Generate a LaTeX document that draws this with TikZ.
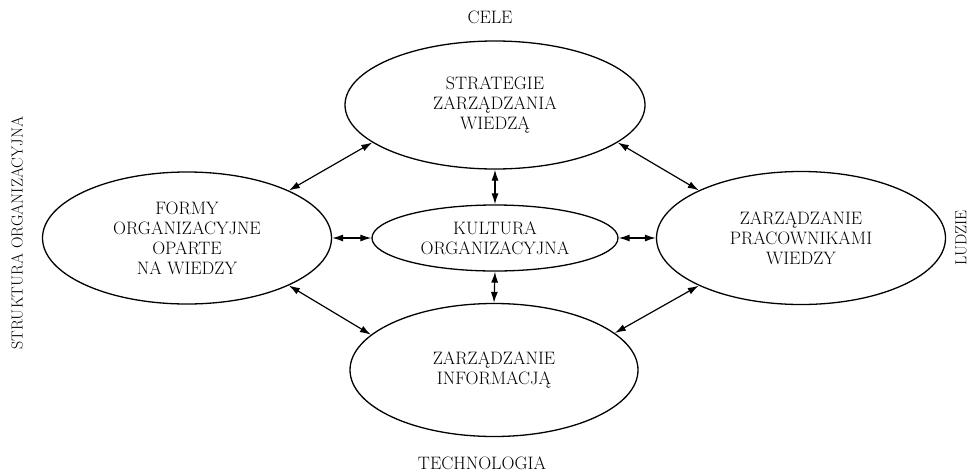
\documentclass[tikz,border=0pt]{standalone}
\usetikzlibrary{shapes.geometric,arrows.meta,positioning}
\tikzset{
  area/.style={ellipse,draw,line width=1.3pt,inner sep=0pt,align=center,
    font=\fontsize{18}{20}\selectfont},
  side/.style={inner sep=0pt,font=\fontsize{18}{20}\selectfont},
  link/.style={<->,line width=1.2pt,>={Latex[length=11pt,width=7pt]}}
}

\begin{document}
\begin{tikzpicture}[x=1pt,y=-1pt]
  \useasboundingbox (0,0) rectangle (971,474);

  \node[area,minimum width=300,minimum height=128] (strat) at (495,105)
    {STRATEGIE\\ZARZĄDZANIA\\WIEDZĄ};
  \node[area,minimum width=246,minimum height=66] (kult) at (495,238)
    {KULTURA\\ORGANIZACYJNA};
  \node[area,minimum width=289,minimum height=132] (formy) at (187,238)
    {FORMY\\ORGANIZACYJNE\\OPARTE\\NA WIEDZY};
  \node[area,minimum width=289,minimum height=133] (ludz) at (801,238)
    {ZARZĄDZANIE\\PRACOWNIKAMI\\WIEDZY};
  \node[area,minimum width=288,minimum height=133] (info) at (494,370)
    {ZARZĄDZANIE\\INFORMACJĄ};

  % opisy po bokach
  \node[side] (cele) at (490,17) {CELE};
  \node[side] (tech) at (482,463) {TECHNOLOGIA};
  \node[side,rotate=90,font=\fontsize{16}{18}\selectfont] (strukt) at (17,233)
    {STRUKTURA ORGANIZACYJNA};
  \node[side,rotate=90,font=\fontsize{16}{18}\selectfont] (ludzie) at (961,238)
    {LUDZIE};

  \draw[link] (formy.25) -- (strat.197);
  \draw[link] (strat.343) -- (ludz.155);
  \draw[link] (formy.335) -- (info.164);
  \draw[link] (info.17) -- (ludz.205);
  \draw[link] (strat.south) -- (kult.north);
  \draw[link] (kult.south) -- (info.north);
  \draw[link] (formy.east) -- (kult.west);
  \draw[link] (kult.east) -- (ludz.west);
\end{tikzpicture}
\end{document}
